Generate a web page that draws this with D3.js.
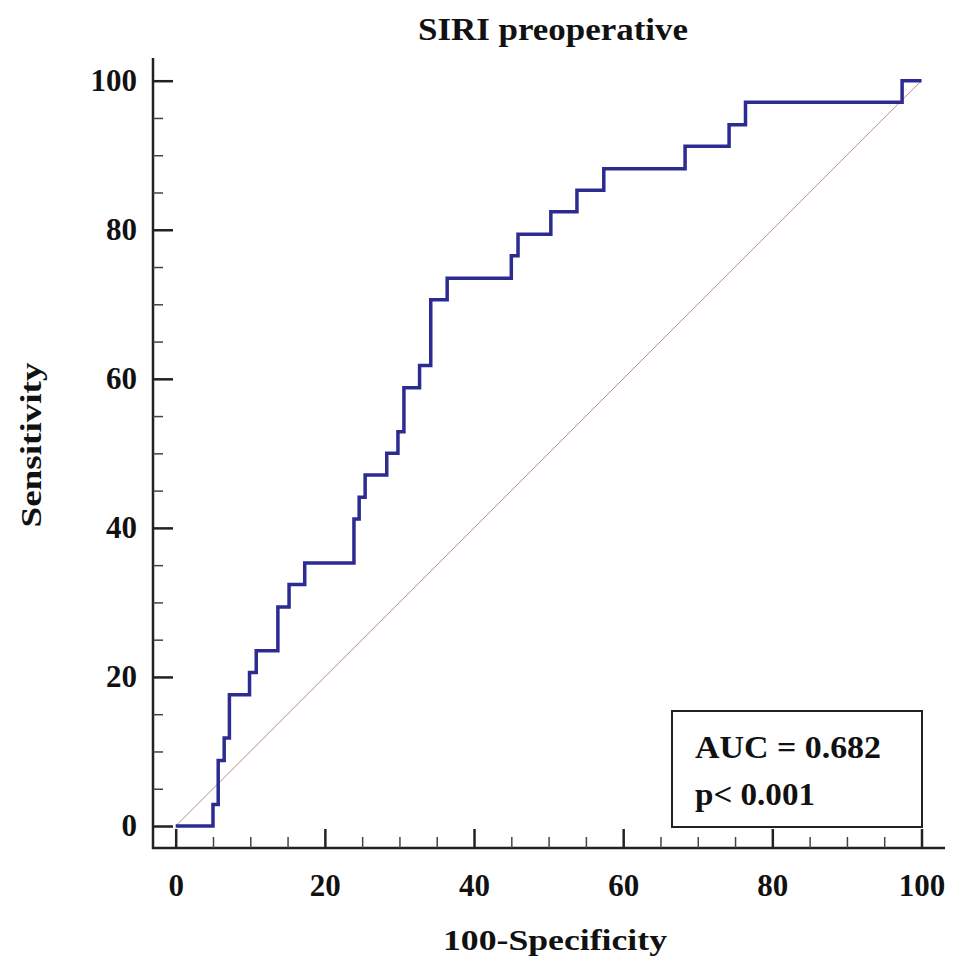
<!DOCTYPE html>
<html>
<head>
<meta charset="utf-8">
<script src="https://cdn.jsdelivr.net/npm/d3@7"></script>
<style>
  body { margin: 0; background: #fff; }
  text { font-family: "Liberation Serif", "DejaVu Serif", serif; font-weight: bold; fill: #111; }
</style>
</head>
<body>
<script>
// ROC operating points (100-specificity, sensitivity)
const fpr = [0, 5.0, 5.7, 6.5, 7.2, 9.9, 10.8, 13.7, 15.2, 17.3, 23.9, 24.6, 25.4, 28.3, 29.8,
  30.6, 32.7, 34.2, 36.4, 45.0, 45.9, 50.3, 53.8, 57.4, 68.3, 74.2, 76.4, 97.4, 100];
const tpr = [0, 2.9, 8.8, 11.8, 17.6, 20.6, 23.5, 29.4, 32.4, 35.3, 41.2, 44.1, 47.1, 50.0, 52.9,
  58.8, 61.8, 70.6, 73.5, 76.5, 79.4, 82.4, 85.3, 88.2, 91.2, 94.1, 97.1, 100, 100];
const majorTicks = [0, 20, 40, 60, 80, 100];
const minorTicks = [5, 10, 15, 25, 30, 35, 45, 50, 55, 65, 70, 75, 85, 90, 95];
const title = "SIRI preoperative";
const xLabel = "100-Specificity";
const yLabel = "Sensitivity";
const statLines = ["AUC = 0.682", "p< 0.001"];

const width = 957, height = 960;
const axisX = 153, axisY = 848;

const svg = d3.select("body").append("svg")
    .attr("width", width)
    .attr("height", height);

const x = d3.scaleLinear().domain([0, 100]).range([175.7, 921.5]);
const y = d3.scaleLinear().domain([0, 100]).range([826, 80.7]);

// axis lines sit apart from the plot area
svg.append("line")
    .attr("x1", axisX).attr("x2", axisX)
    .attr("y1", 58).attr("y2", axisY + 1)
    .attr("stroke", "#222").attr("stroke-width", 2.5);
svg.append("line")
    .attr("x1", axisX - 1).attr("x2", 945)
    .attr("y1", axisY).attr("y2", axisY)
    .attr("stroke", "#222").attr("stroke-width", 2.5);

// major ticks + labels
const xAxis = svg.append("g")
    .attr("transform", "translate(0," + axisY + ")")
    .call(d3.axisBottom(x).tickValues(majorTicks).tickSizeInner(-19).tickSizeOuter(0).tickPadding(26));
const yAxis = svg.append("g")
    .attr("transform", "translate(" + axisX + ",0)")
    .call(d3.axisLeft(y).tickValues(majorTicks).tickSizeInner(-20).tickSizeOuter(0).tickPadding(16));

[xAxis, yAxis].forEach(function(g) {
  g.select(".domain").remove();
  g.selectAll(".tick line").attr("stroke", "#222").attr("stroke-width", 2.5);
  g.selectAll(".tick text")
      .attr("font-family", "Liberation Serif, serif")
      .attr("font-weight", "bold")
      .attr("font-size", 31)
      .attr("fill", "#111");
});

// minor ticks
const xMinor = svg.append("g")
    .attr("transform", "translate(0," + axisY + ")")
    .call(d3.axisBottom(x).tickValues(minorTicks).tickSizeInner(-11).tickSizeOuter(0).tickFormat(""));
const yMinor = svg.append("g")
    .attr("transform", "translate(" + axisX + ",0)")
    .call(d3.axisLeft(y).tickValues(minorTicks).tickSizeInner(-10).tickSizeOuter(0).tickFormat(""));
[xMinor, yMinor].forEach(function(g) {
  g.select(".domain").remove();
  g.selectAll(".tick line").attr("stroke", "#444").attr("stroke-width", 1.5);
});

// reference diagonal
svg.append("line")
    .attr("x1", x(0)).attr("y1", y(0))
    .attr("x2", x(100)).attr("y2", y(100))
    .attr("stroke", "#c48a8a").attr("stroke-width", 1);

// ROC curve
const points = fpr.map(function(d, i) { return [d, tpr[i]]; });
const rocLine = d3.line()
    .x(function(d) { return x(d[0]); })
    .y(function(d) { return y(d[1]); })
    .curve(d3.curveStepAfter);

svg.append("path")
    .datum(points)
    .attr("fill", "none")
    .attr("stroke", "#2b2b92")
    .attr("stroke-width", 3.5)
    .attr("stroke-linejoin", "miter")
    .attr("d", rocLine);

// AUC box
svg.append("rect")
    .attr("x", 672).attr("y", 711)
    .attr("width", 250).attr("height", 116)
    .attr("fill", "#fff")
    .attr("stroke", "#222").attr("stroke-width", 2);

svg.append("text")
    .attr("x", 695).attr("y", 758)
    .attr("font-size", 32)
    .attr("textLength", 186).attr("lengthAdjust", "spacingAndGlyphs")
    .text(statLines[0]);
svg.append("text")
    .attr("x", 695).attr("y", 805)
    .attr("font-size", 32)
    .attr("textLength", 120).attr("lengthAdjust", "spacingAndGlyphs")
    .text(statLines[1]);

// titles
svg.append("text")
    .attr("x", 553).attr("y", 40)
    .attr("text-anchor", "middle")
    .attr("font-size", 31)
    .attr("textLength", 270).attr("lengthAdjust", "spacingAndGlyphs")
    .text(title);

svg.append("text")
    .attr("x", 555).attr("y", 950)
    .attr("text-anchor", "middle")
    .attr("font-size", 30)
    .attr("textLength", 224).attr("lengthAdjust", "spacingAndGlyphs")
    .text(xLabel);

svg.append("text")
    .attr("transform", "translate(41,445) rotate(-90)")
    .attr("text-anchor", "middle")
    .attr("font-size", 30)
    .attr("textLength", 165).attr("lengthAdjust", "spacingAndGlyphs")
    .text(yLabel);
</script>
</body>
</html>
